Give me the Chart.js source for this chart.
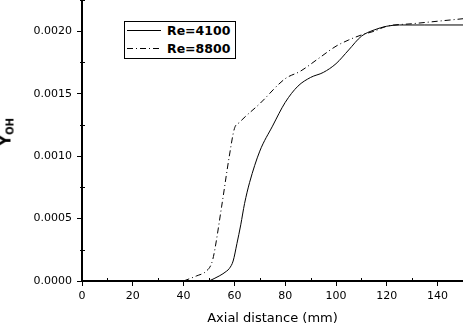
<!DOCTYPE html>
<html>
<head>
<meta charset="utf-8">
<script src="https://cdn.jsdelivr.net/npm/chart.js@4"></script>
<style>
html,body{margin:0;padding:0;background:#fff;}
#wrap{position:relative;width:463px;height:326px;overflow:hidden;}
#ytitle{position:absolute;left:7px;top:132px;transform:translate(-50%,-50%) rotate(-90deg);font:bold 15px "DejaVu Sans";color:#000;white-space:nowrap;line-height:1;}
#ytitle sub{font-size:10px;vertical-align:-3px;}
#legend{position:absolute;left:124px;top:21px;width:112px;height:38px;border:1px solid #000;box-sizing:border-box;background:#fff;font:bold 12.5px "DejaVu Sans";color:#000;}
</style>
</head>
<body>
<div id="wrap">
<canvas id="c" width="463" height="326"></canvas>
<div id="ytitle">Y<sub>OH</sub></div>
<div id="legend"></div>
</div>
<script>
// ---- data ----
const seriesNames = ["Re=4100", "Re=8800"];
const re4100X = [50, 54, 57, 58, 59.5, 61, 62.5, 64, 66, 70, 75, 80, 85, 90, 95, 100, 105, 110, 115, 120, 125, 135, 150];
const re4100Y = [0, 0.00004, 0.00008, 0.0001, 0.00016, 0.0003, 0.00045, 0.00062, 0.00079, 0.00104, 0.00124, 0.00143, 0.00156, 0.00163, 0.00167, 0.00174, 0.00185, 0.00196, 0.00201, 0.00204, 0.00205, 0.00205, 0.00205];
const re8800X = [40, 45, 49, 51, 52, 55, 58, 60, 62, 70, 80, 86, 93, 100, 105, 110, 115, 120, 130, 140, 150];
const re8800Y = [0, 0.00004, 0.00008, 0.00014, 0.00022, 0.0006, 0.001, 0.00122, 0.00127, 0.00142, 0.00162, 0.00168, 0.00178, 0.00188, 0.00193, 0.00197, 0.002, 0.00204, 0.00206, 0.00208, 0.0021];
const xTitle = "Axial distance (mm)";
const xRange = [0, 150];
const yRange = [0, 0.00225];
const xMajorStep = 20, xMinorStep = 10;
const yMajorStep = 0.0005, yMinorStep = 0.00025;

const toPts = (xs, ys) => xs.map((x, i) => ({x: x, y: ys[i]}));
const dashes = [[], [6, 3, 1, 3]];

const minorTicks = {
  id: 'minorTicks',
  afterDraw(chart) {
    const ctx = chart.ctx, xs = chart.scales.x, ys = chart.scales.y;
    ctx.save();
    ctx.strokeStyle = '#000';
    ctx.lineWidth = 1;
    ctx.beginPath();
    const nx = Math.round((xs.max - xs.min) / xMinorStep);
    for (let i = 0; i <= nx; i++) {
      const v = xs.min + i * xMinorStep;
      if (Math.abs(v / xMajorStep - Math.round(v / xMajorStep)) < 1e-6) continue;
      const px = Math.round(xs.getPixelForValue(v)) + 0.5;
      ctx.moveTo(px, xs.top);
      ctx.lineTo(px, xs.top - 3);
    }
    const ny = Math.round((ys.max - ys.min) / yMinorStep);
    for (let i = 0; i <= ny; i++) {
      const v = ys.min + i * yMinorStep;
      if (Math.abs(v / yMajorStep - Math.round(v / yMajorStep)) < 1e-6) continue;
      const py = Math.round(ys.getPixelForValue(v)) + 0.5;
      ctx.moveTo(ys.right - 2, py);
      ctx.lineTo(ys.right + 3, py);
    }
    ctx.stroke();
    ctx.restore();
  }
};

const chart = new Chart(document.getElementById('c'), {
  type: 'line',
  data: {
    datasets: [
      {label: seriesNames[0], data: toPts(re4100X, re4100Y), borderColor: '#000', borderWidth: 1, pointRadius: 0, fill: false, cubicInterpolationMode: 'monotone', borderDash: dashes[0]},
      {label: seriesNames[1], data: toPts(re8800X, re8800Y), borderColor: '#000', borderWidth: 1, pointRadius: 0, fill: false, cubicInterpolationMode: 'monotone', borderDash: dashes[1]}
    ]
  },
  options: {
    responsive: false,
    devicePixelRatio: 1,
    animation: false,
    layout: {padding: 0},
    plugins: {legend: {display: false}, tooltip: {enabled: false}},
    scales: {
      x: {
        type: 'linear', min: xRange[0], max: xRange[1],
        ticks: {stepSize: xMajorStep, includeBounds: false, color: '#000', font: {family: 'DejaVu Sans', size: 11}, padding: 4, maxRotation: 0},
        grid: {display: true, drawOnChartArea: false, drawTicks: true, tickLength: 5, color: '#000', lineWidth: 1},
        border: {display: true, color: '#000', width: 2},
        title: {display: true, text: xTitle, color: '#000', font: {family: 'DejaVu Sans', size: 13}, padding: {top: 2, bottom: 0}},
        afterFit(s) { s.height = 45; s.paddingLeft = 0; s.paddingRight = 0; }
      },
      y: {
        type: 'linear', min: yRange[0], max: yRange[1],
        ticks: {stepSize: yMajorStep, includeBounds: false, color: '#000', font: {family: 'DejaVu Sans', size: 11}, padding: 5, callback: v => v.toFixed(4)},
        grid: {display: true, drawOnChartArea: false, drawTicks: true, tickLength: 5, color: '#000', lineWidth: 1},
        border: {display: true, color: '#000', width: 2},
        afterFit(s) { s.width = 82; s.paddingTop = 0; s.paddingBottom = 0; }
      }
    }
  },
  plugins: [minorTicks]
});

// legend built from the datasets
const lg = document.getElementById('legend');
chart.data.datasets.forEach((ds, i) => {
  const row = document.createElement('div');
  row.style.cssText = 'position:absolute;left:0;top:' + (i * 18) + 'px;height:18px;width:110px;';
  const svg = document.createElementNS('http://www.w3.org/2000/svg', 'svg');
  svg.setAttribute('width', '40'); svg.setAttribute('height', '18');
  svg.style.cssText = 'position:absolute;left:1px;top:0;';
  const ln = document.createElementNS('http://www.w3.org/2000/svg', 'line');
  ln.setAttribute('x1', '1'); ln.setAttribute('x2', '35');
  ln.setAttribute('y1', '8.5'); ln.setAttribute('y2', '8.5');
  ln.setAttribute('stroke', '#000'); ln.setAttribute('stroke-width', '1');
  if (ds.borderDash.length) ln.setAttribute('stroke-dasharray', ds.borderDash.join(' '));
  svg.appendChild(ln);
  const t = document.createElement('span');
  t.textContent = ds.label;
  t.style.cssText = 'position:absolute;left:42px;top:1px;line-height:15px;';
  row.appendChild(svg); row.appendChild(t);
  lg.appendChild(row);
});
</script>
</body>
</html>
